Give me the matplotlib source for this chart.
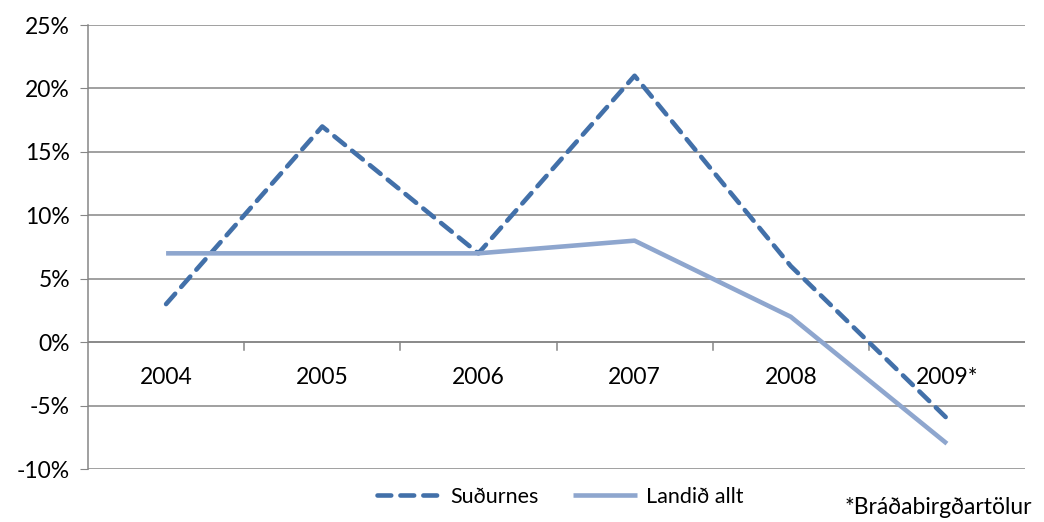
import numpy as np
import matplotlib.pyplot as plt
from matplotlib.ticker import FuncFormatter

plt.rcParams['font.family'] = ['Lato', 'DejaVu Sans']

years = ['2004', '2005', '2006', '2007', '2008', '2009*']
sudurnes = [3, 17, 7, 21, 6, -6]
landid = [7, 7, 7, 8, 2, -8]

fig = plt.figure(figsize=(10.44, 5.22), dpi=100)
ax = fig.add_axes([88 / 1044, 1 - 469 / 522, (1025 - 88) / 1044, (469 - 25) / 522])

x = np.arange(len(years))
ax.plot(x, sudurnes, color='#4270A9', lw=3.3, dashes=(3.0, 2.0),
        dash_capstyle='round', solid_joinstyle='round', label='Suðurnes', zorder=3)
ax.plot(x, landid, color='#8EA6CE', lw=3.3, solid_capstyle='butt',
        label='Landið allt', zorder=3)

ax.set_xlim(-0.5, len(years) - 0.5)
ax.set_ylim(-10, 25)
ax.set_yticks(np.arange(-10, 26, 5))
ax.yaxis.set_major_formatter(FuncFormatter(lambda v, p: f'{v:.0f}%'))
ax.yaxis.grid(True, color='#868686', lw=1.1)
ax.tick_params(axis='y', length=6, color='#868686', labelsize=16.5, pad=7)

# category axis at zero with boundary ticks
for s in ['top', 'right', 'bottom']:
    ax.spines[s].set_visible(False)
ax.spines['left'].set_color('#868686')
ax.spines['left'].set_linewidth(1.1)
ax.set_xticks([])
ax.axhline(0, color='#868686', lw=1.1, zorder=2)
for b in np.arange(0.5, len(years) - 0.5, 1):
    ax.plot([b, b], [0, -0.6], color='#868686', lw=1.1, zorder=2)
for i, yr in enumerate(years):
    ax.text(i, -2.8, yr, ha='center', va='center', fontsize=16.5)

ax.set_axisbelow(True)
leg = fig.legend(loc='center', bbox_to_anchor=(560 / 1044, 1 - 497 / 522), ncol=2,
                 frameon=False, fontsize=15.5, handlelength=3.0, columnspacing=1.6,
                 handletextpad=0.4)
fig.text(1032 / 1044, 1 - 508 / 522, '*Bráðabirgðartölur', ha='right', va='center',
         fontsize=16.5)

fig.savefig('out.png', dpi=100)
